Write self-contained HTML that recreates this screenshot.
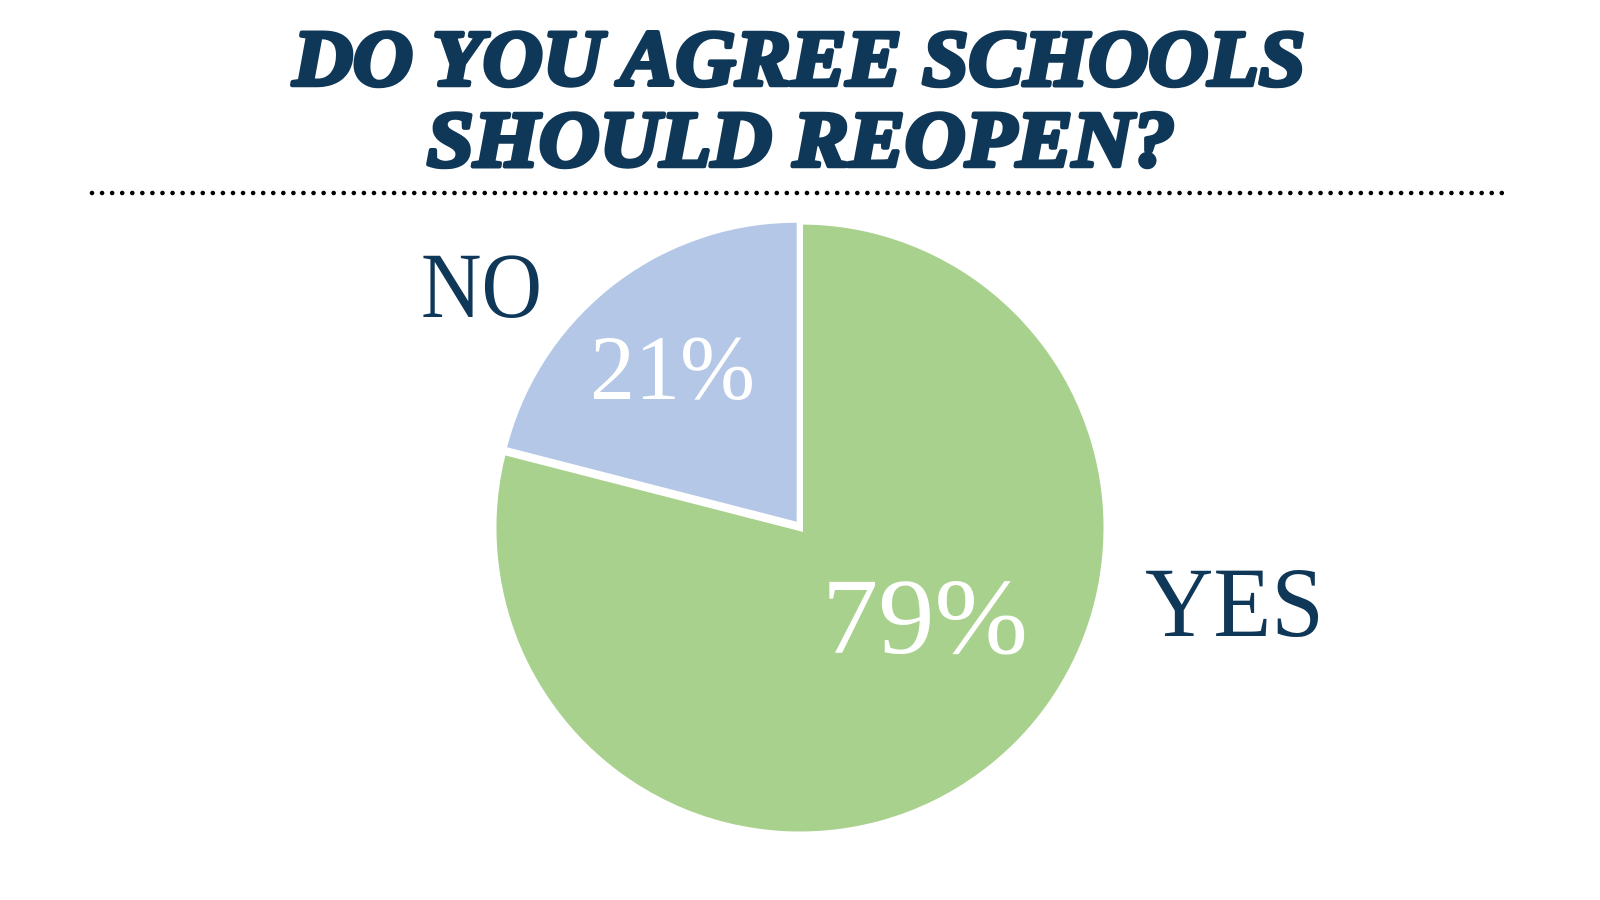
<!DOCTYPE html>
<html>
<head>
<meta charset="utf-8">
<style>
  html, body { margin: 0; padding: 0; background: #ffffff; }
  body { width: 1600px; height: 900px; overflow: hidden; }
  svg { display: block; }
</style>
</head>
<body>
<svg width="1600" height="900" viewBox="0 0 1600 900" xmlns="http://www.w3.org/2000/svg">
  <rect x="0" y="0" width="1600" height="900" fill="#ffffff"/>

  <!-- Title -->
  <g font-family="'Liberation Serif', 'DejaVu Serif', serif" font-weight="bold" font-style="italic" fill="#0F3758" stroke="#0F3758" stroke-width="4.5" stroke-linejoin="round">
    <text x="293" y="85" font-size="79" textLength="1012" lengthAdjust="spacingAndGlyphs">DO YOU AGREE SCHOOLS</text>
    <text x="427" y="166" font-size="79" textLength="748" lengthAdjust="spacingAndGlyphs">SHOULD REOPEN?</text>
  </g>

  <!-- Dotted separator -->
  <line x1="92" y1="193" x2="1502" y2="193" stroke="#000000" stroke-width="4.6" stroke-linecap="round" stroke-dasharray="0 10.07"/>

  <!-- Pie: YES (green) -->
  <path d="M800,528 L800,221.5 A306.5,306.5 0 1,1 503.13,451.78 Z"
        fill="#A9D18E" stroke="#ffffff" stroke-width="6" stroke-linejoin="miter"/>

  <!-- Pie: NO (blue, slightly exploded) -->
  <path d="M796.7,521.7 L796.7,222.7 A299,299 0 0,0 507.1,447.3 Z"
        fill="#B4C7E7" stroke="none"/>

  <!-- Labels -->
  <g font-family="'Liberation Serif', 'DejaVu Serif', serif">
    <text x="421" y="317" font-size="93" fill="#0F3758" textLength="121" lengthAdjust="spacingAndGlyphs">NO</text>
    <text x="590" y="399" font-size="92" fill="#ffffff" textLength="165" lengthAdjust="spacingAndGlyphs">21%</text>
    <text x="1145" y="636" font-size="100" fill="#0F3758" textLength="179" lengthAdjust="spacingAndGlyphs">YES</text>
    <text x="822" y="653" font-size="108" fill="#ffffff" textLength="206" lengthAdjust="spacingAndGlyphs">79%</text>
  </g>
</svg>
</body>
</html>
